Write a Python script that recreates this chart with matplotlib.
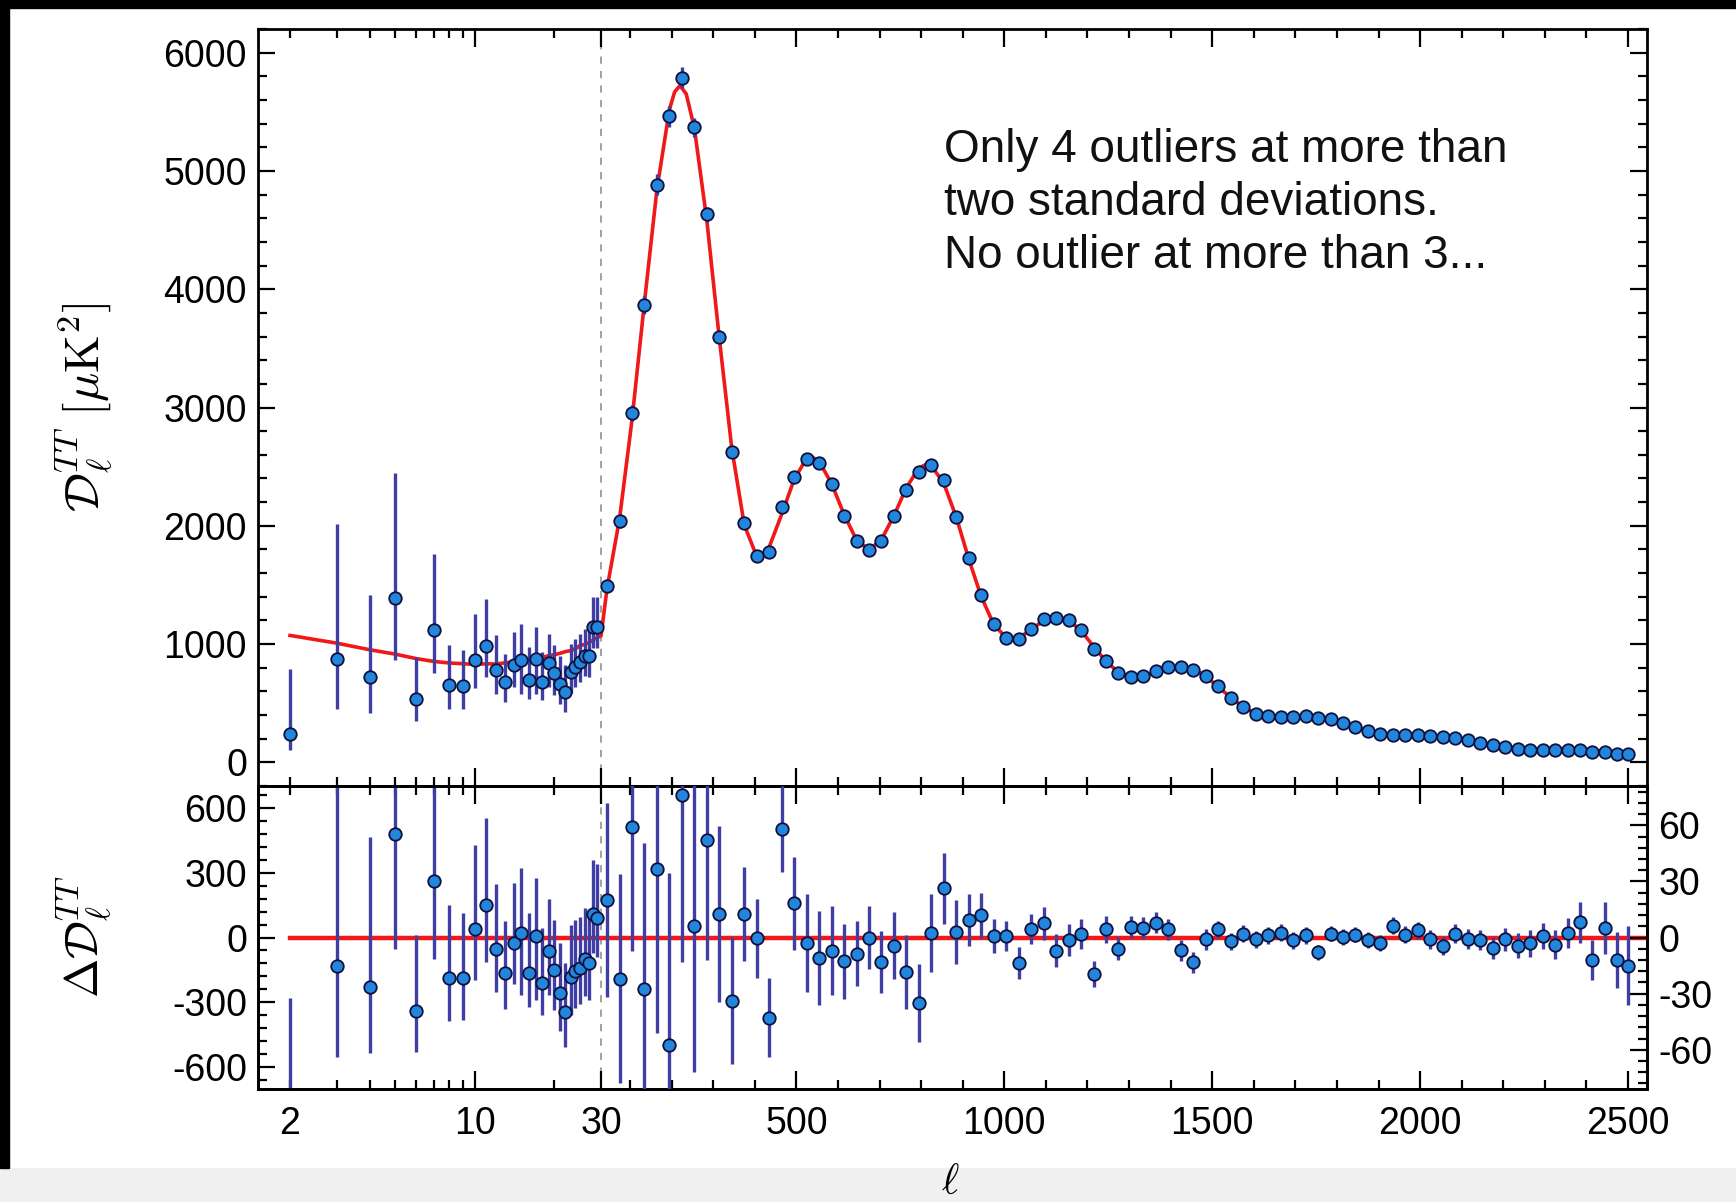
import matplotlib

matplotlib.use("Agg")
import matplotlib.pyplot as plt
import numpy as np
from matplotlib.patches import Rectangle
from matplotlib.ticker import FixedLocator, FuncFormatter, MultipleLocator

plt.rcParams.update({
    "font.family": ["Liberation Sans", "DejaVu Sans"],
    "mathtext.fontset": "cm",
    "axes.unicode_minus": False,
})

# ── Data ─────────────────────────────────────────────────────────────────────
# low multipoles, one point per ell
ell_low = [2, 3, 4, 5, 6, 7, 8, 9, 10, 11, 12, 13, 14, 15, 16, 17, 18, 19,
           20, 21, 22, 23, 24, 25, 26, 27, 28, 29]
D_low = [237, 876, 721, 1392, 538, 1115, 651, 645, 868, 983, 777, 679, 825,
         868, 699, 876, 679, 839, 758, 665, 594, 763, 806, 848, 896, 896,
         1144, 1144]
err_low_up = [555, 1141, 696, 1051, 352, 643, 338, 301, 388, 400, 302, 239,
              276, 298, 276, 268, 253, 243, 235, 230, 225, 240, 235, 235, 235,
              240, 250, 250]
err_low_dn = [136, 422, 301, 530, 189, 360, 197, 191, 237, 262, 197, 169, 188,
              288, 161, 296, 149, 202, 185, 175, 165, 175, 170, 170, 170, 175,
              180, 180]
res_low = [-836, -132, -231, 477, -339, 262, -189, -189, 40, 150, -55, -162,
           -25, 21, -162, 6, -208, -63, -152, -257, -342, -181, -155, -139,
           -101, -116, 110, 90]

# high multipoles, bins of 30
ell_hi = [44.5, 74.5, 104.5, 134.5, 164.5, 194.5, 224.5, 254.5, 284.5, 314.5,
          344.5, 374.5, 404.5, 434.5, 464.5, 494.5, 524.5, 554.5, 584.5, 614.5,
          644.5, 674.5, 704.5, 734.5, 764.5, 794.5, 824.5, 854.5, 884.5, 914.5,
          944.5, 974.5, 1004.5, 1034.5, 1064.5, 1094.5, 1124.5, 1154.5, 1184.5,
          1214.5, 1244.5, 1274.5, 1304.5, 1334.5, 1364.5, 1394.5, 1424.5,
          1454.5, 1484.5, 1514.5, 1544.5, 1574.5, 1604.5, 1634.5, 1664.5,
          1694.5, 1724.5, 1754.5, 1784.5, 1814.5, 1844.5, 1874.5, 1904.5,
          1934.5, 1964.5, 1994.5, 2024.5, 2054.5, 2084.5, 2114.5, 2144.5,
          2174.5, 2204.5, 2234.5, 2264.5, 2294.5, 2324.5, 2354.5, 2384.5,
          2414.5, 2444.5, 2474.5, 2499]
D_hi = [1491, 2037, 2955, 3865, 4882, 5461, 5787, 5368, 4632, 3597, 2620, 2020,
        1741, 1778, 2155, 2410, 2568, 2533, 2350, 2082, 1871, 1798, 1871, 2082,
        2305, 2454, 2511, 2384, 2074, 1727, 1412, 1167, 1054, 1040, 1124, 1209,
        1223, 1200, 1116, 961, 859, 755, 721, 730, 772, 806, 806, 778, 727, 642,
        547, 468, 412, 389, 383, 383, 389, 378, 369, 332, 298, 265, 237, 228,
        228, 228, 220, 214, 209, 192, 163, 144, 129, 116, 107, 107, 107, 107,
        107, 87, 87, 68, 68]
res_hi = [20, -22, 59, -27.5, 36.8, -57.7, 76, 6, 52, 12.7, -33.75, 12.7, -0.4,
          -42.9, 57.9, 18.2, -2.9, -10.9, -7, -12.7, -8.6, 0, -13.2, -4.3,
          -18.4, -35, 2.5, 26.25, 3, 9.3, 11.8, 0.7, 0.7, -13.8, 4.3,
          7.5, -7, -1.4, 2.1, -19.3, 4.3, -5.9, 5.5, 5.2, 7.9, 4.3, -6.8, -13.2,
          -1, 4.3, -2, 2.1, -1, 1.1, 2.5, -1.4, 1.25, -7.9, 2.1, 0.4, 1.6, -1.4,
          -2.9, 6.4, 1.6, 3.75, -1, -4.6, 2, -0.7, -1.4, -5.5, -1, -4.3, -3.2,
          0.7, -3.75, 2.5, 8.2, -12.1, 5.2, -11.8, -15]
err_hi = [52, 56, 66, 78, 88, 92, 89, 78, 64, 47, 34, 25, 21, 21, 23, 25, 26,
          25, 24, 20, 17.5, 16.6, 16.5, 18, 20, 21, 21, 19, 17, 14, 12, 9, 8,
          8.5, 8, 9, 9, 8.5, 8, 7, 7, 6.3, 6, 6, 5.7, 5.5, 5.6, 5.7, 5.5, 4.5,
          4.5, 4.5, 4.5, 4.5, 4.5, 4.5, 4.5, 4, 4, 4.2, 4.2, 4.2, 4.2, 4.5, 4.5,
          4.5, 5, 5, 5, 5.5, 5.5, 6, 6, 6.5, 7, 7, 7.5, 8, 11, 10.7, 14, 15, 21]

# best-fit model curve
th_ell = [2, 3, 4, 5, 6, 7, 8, 9, 10, 11, 12, 13, 14, 15, 16, 17, 18, 19, 20,
          21, 22, 23, 24, 25, 26, 27, 28, 29, 30, 44.5, 74.5, 104.5, 134.5,
          164.5, 194.5, 207, 220, 235, 254.5, 284.5, 314.5, 344.5, 374.5,
          404.5, 413, 434.5, 464.5, 494.5, 524.5, 536, 554.5, 584.5, 614.5,
          644.5, 674.5, 704.5, 734.5, 764.5, 794.5, 813, 824.5, 854.5, 884.5,
          914.5, 944.5, 974.5, 1004.5, 1034.5, 1064.5, 1094.5, 1124.5, 1154.5,
          1184.5, 1214.5, 1244.5, 1274.5, 1304.5, 1334.5, 1364.5, 1394.5,
          1424.5, 1454.5, 1484.5, 1514.5, 1544.5, 1574.5, 1604.5, 1634.5,
          1664.5, 1694.5, 1724.5, 1754.5, 1784.5, 1814.5, 1844.5, 1874.5,
          1904.5, 1934.5, 1964.5, 1994.5, 2024.5, 2054.5, 2084.5, 2114.5,
          2144.5, 2174.5, 2204.5, 2234.5, 2264.5, 2294.5, 2324.5, 2354.5,
          2384.5, 2414.5, 2444.5, 2474.5, 2499]
th_D = [1073, 1008, 952, 915, 877, 853, 840, 834, 828, 833, 832, 841, 850, 855,
        861, 870, 887, 902, 910, 922, 936, 944, 961, 987, 997, 1012, 1034, 1054,
        1070, 1471, 2059, 2896, 3892, 4845, 5519, 5668, 5722, 5650, 5362, 4580,
        3584, 2654, 2007, 1741, 1728, 1821, 2097, 2392, 2571, 2585, 2544, 2357,
        2095, 1880, 1798, 1884, 2086, 2323, 2489, 2521, 2508, 2358, 2071, 1718,
        1400, 1166, 1053, 1054, 1120, 1201, 1230, 1201, 1114, 980, 855, 761,
        716, 725, 764, 802, 813, 791, 728, 638, 549, 466, 413, 388, 380, 384,
        387, 386, 367, 332, 296, 266, 240, 222, 226, 224, 221, 219, 207, 193,
        164, 150, 130, 120, 110, 106, 111, 104, 99, 99, 82, 80, 83]

ANNOT = "Only 4 outliers at more than\ntwo standard deviations.\nNo outlier at more than 3..."

# ── Style ────────────────────────────────────────────────────────────────────
RED = "#f01818"
FILL = "#2286dc"
EDGE = "#10103c"
BAR = "#3e3ea4"
W, H = 1736, 1202
LAB = 27


# log below ell=30, linear above (in pixel-like units)
def fwd(l):
    l = np.asarray(l, dtype=float)
    lc = np.clip(l, 1e-3, None)
    return np.where(l <= 30, 311 * np.log10(lc / 2) / np.log10(15),
                    311 + (l - 30) * 1027 / 2470)


def inv(u):
    u = np.asarray(u, dtype=float)
    return np.where(u <= 311, 2 * 15 ** (np.minimum(u, 311) / 311),
                    30 + (u - 311) * 2470 / 1027)


fig = plt.figure(figsize=(W / 100, H / 100), dpi=100)
fig.patch.set_facecolor("white")
fig.patches.append(Rectangle((0, 0), 1, 34 / H, transform=fig.transFigure,
                             color="#f0f0f0", zorder=-10))
fig.patches.append(Rectangle((0, 1 - 8 / H), 1, 8 / H, transform=fig.transFigure,
                             color="black", zorder=-10))
fig.patches.append(Rectangle((0, 34 / H), 9 / W, 1, transform=fig.transFigure,
                             color="black", zorder=-10))

left, width = 258 / W, (1647 - 258) / W
ax = fig.add_axes([left, (H - 786) / H, width, (786 - 29) / H])
axr = fig.add_axes([left, (H - 1089) / H, width, (1089 - 786) / H], sharex=ax)
axr2 = axr.twinx()

ax.set_xscale("function", functions=(fwd, inv))
ax.set_xlim(1.513, 2545.7)

ekw = dict(fmt="o", ms=9, mfc=FILL, mec=EDGE, mew=1.3, ecolor=BAR,
           elinewidth=2.4, capsize=0, zorder=4)

# ── Top panel ────────────────────────────────────────────────────────────────
ax.axvline(30, color="#9a9a9a", ls=(0, (4, 4)), lw=1.3, zorder=1)
ax.plot(th_ell, th_D, color=RED, lw=2.6, zorder=3)
ax.errorbar(ell_low, D_low, yerr=[err_low_dn, err_low_up], **ekw)
ax.errorbar(ell_hi, D_hi, yerr=err_hi, **ekw)
ax.set_ylim(-200, 6200)
ax.yaxis.set_major_locator(MultipleLocator(1000))
ax.yaxis.set_minor_locator(MultipleLocator(200))

# ── Residual panel ───────────────────────────────────────────────────────────
axr.axvline(30, color="#9a9a9a", ls=(0, (4, 4)), lw=1.3, zorder=1)
axr.plot([2, 2545], [0, 0], color=RED, lw=3.2, zorder=3)
axr.errorbar(ell_low, res_low, yerr=[err_low_dn, err_low_up], **ekw)
axr2.errorbar(ell_hi, res_hi, yerr=err_hi, **ekw)
axr.set_ylim(-700, 700)
axr.yaxis.set_major_locator(FixedLocator([-600, -300, 0, 300, 600]))
axr.yaxis.set_minor_locator(MultipleLocator(60))
axr2.set_ylim(-81, 81)
axr2.yaxis.set_major_locator(FixedLocator([-60, -30, 0, 30, 60]))
axr2.yaxis.set_minor_locator(MultipleLocator(6))

# ── Ticks ────────────────────────────────────────────────────────────────────
major_x = [10, 30, 500, 1000, 1500, 2000, 2500]
minor_x = [2, 3, 4, 5, 6, 7, 8, 9, 20] + [v for v in range(100, 2500, 100) if v % 500]
for a in (ax, axr):
    a.xaxis.set_major_locator(FixedLocator(major_x))
    a.xaxis.set_minor_locator(FixedLocator(minor_x))
    a.tick_params(axis="x", which="both", direction="in", top=True, bottom=True,
                  width=1.6, labelsize=LAB, pad=12)
    a.tick_params(axis="x", which="major", length=13)
    a.tick_params(axis="x", which="minor", length=6.5)
    for s in a.spines.values():
        s.set_linewidth(2)
axr.xaxis.set_major_formatter(FuncFormatter(lambda v, p: f"{v:g}"))
axr.xaxis.set_minor_formatter(FuncFormatter(lambda v, p: "2" if abs(v - 2) < 1e-6 else ""))
ax.tick_params(axis="x", which="both", labelbottom=False)

ax.tick_params(axis="y", which="both", direction="in", left=True, right=True,
               width=1.6, labelsize=LAB, pad=8)
ax.tick_params(axis="y", which="major", length=12)
ax.tick_params(axis="y", which="minor", length=6.5)

axr.tick_params(axis="y", which="both", direction="in", left=True, right=False,
                width=1.6, labelsize=LAB, pad=8)
axr.tick_params(axis="y", which="major", length=12)
axr.tick_params(axis="y", which="minor", length=6.5)
axr2.tick_params(axis="y", which="both", direction="in", left=False, right=True,
                 width=1.6, labelsize=LAB, pad=8)
axr2.tick_params(axis="y", which="major", length=12)
axr2.tick_params(axis="y", which="minor", length=6.5)
for s in axr2.spines.values():
    s.set_linewidth(2)

# ── Labels ───────────────────────────────────────────────────────────────────
fig.text(84 / W, 1 - 407 / H, r"$\mathcal{D}_{\ell}^{TT}\ [\mu\mathrm{K}^2]$",
         rotation=90, ha="center", va="center", fontsize=35)
fig.text(84 / W, 1 - 937 / H, r"$\Delta\mathcal{D}_{\ell}^{TT}$",
         rotation=90, ha="center", va="center", fontsize=34)
fig.text(950 / W, 1 - 1183 / H, r"$\ell$", ha="center", va="center", fontsize=30)
fig.text(944 / W, 1 - 128 / H, ANNOT, ha="left", va="top", fontsize=33,
         linespacing=1.26, color="#111111")

fig.savefig("out.png", dpi=100, facecolor=fig.get_facecolor())
